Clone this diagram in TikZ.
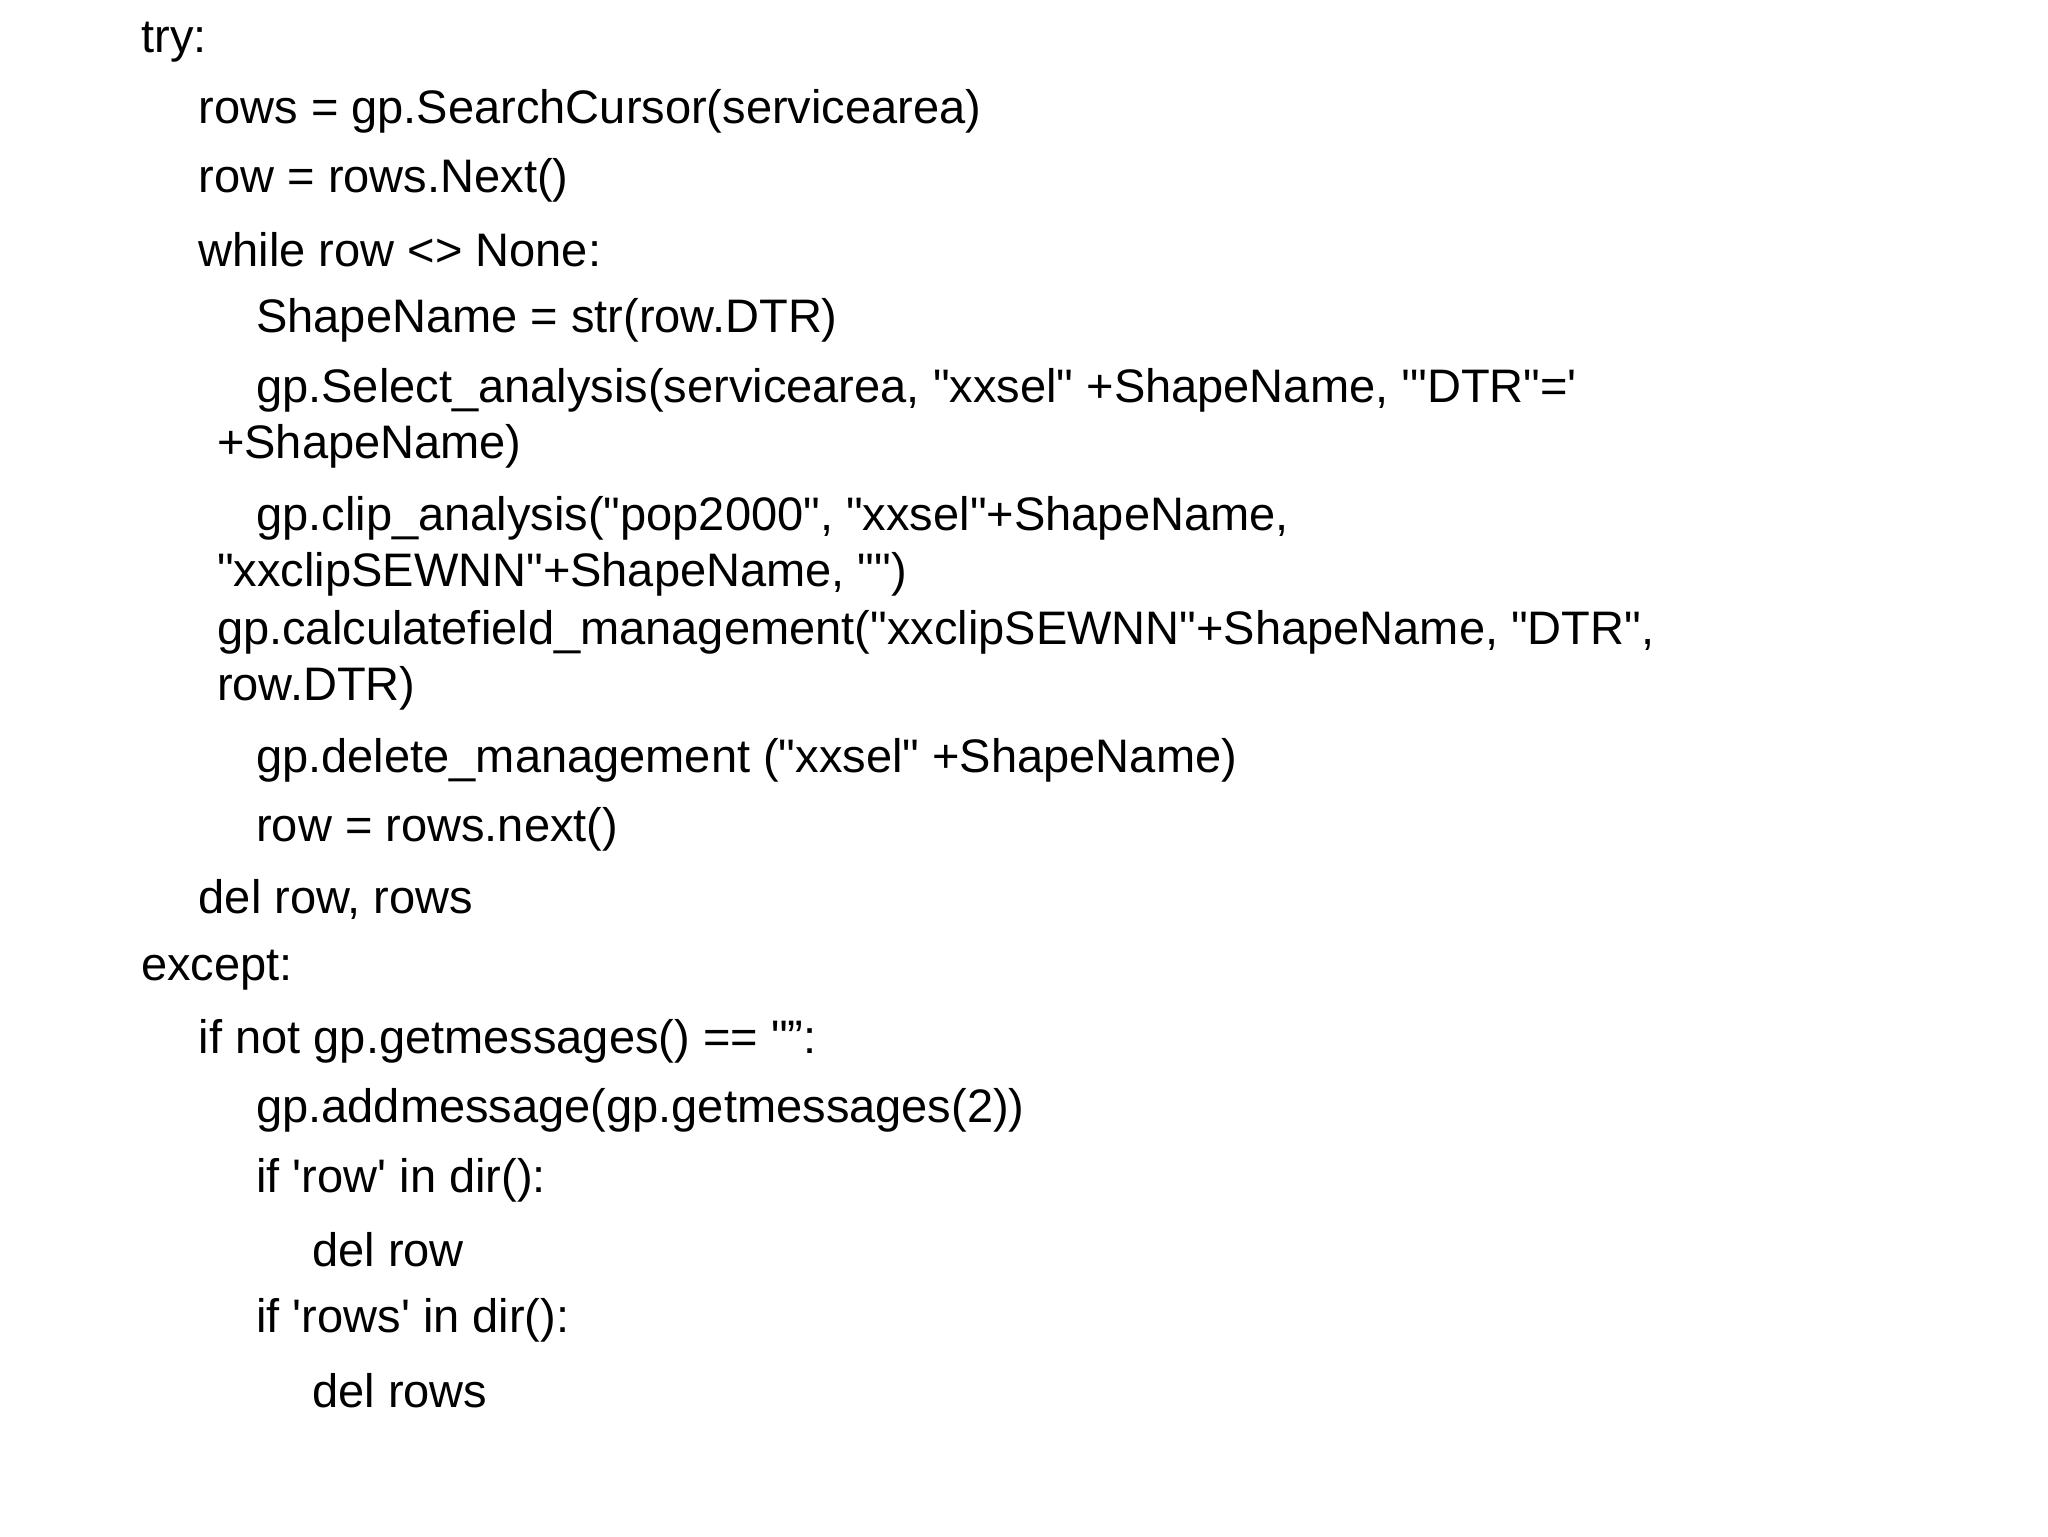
\documentclass[tikz,border=0pt]{standalone}
\usepackage{fontspec}
\newfontfamily\cf{Liberation Sans}
\begin{document}
\begin{tikzpicture}[x=1pt,y=1pt,ln/.style={anchor=west,inner sep=0pt,font=\cf\fontsize{36}{40}\selectfont}]
\useasboundingbox[fill=white] (0,0) rectangle (1568,-1176);
\node[ln] (l1) at (108,-32) {try:};
\node[ln] (l2) at (152,-85) {rows = gp.SearchCursor(servicearea)};
\node[ln] (l3) at (152,-138) {row = rows.Next()};
\node[ln] (l4) at (152,-191) {while row <> None:};
\node[ln] (l5) at (196,-245) {ShapeName = str(row.DTR)};
\node[ln] (l6) at (196,-299) {gp.Select\_analysis(servicearea, "xxsel" +ShapeName, '"DTR"='};
\node[ln] (l7) at (166,-342) {+ShapeName)};
\node[ln] (l8) at (196,-397) {gp.clip\_analysis("pop2000", "xxsel"+ShapeName,};
\node[ln] (l9) at (166,-440) {"xxclipSEWNN"+ShapeName, "")};
\node[ln] (l10) at (166,-484) {gp.calculatefield\_management("xxclipSEWNN"+ShapeName, "DTR",};
\node[ln] (l11) at (166,-527) {row.DTR)};
\node[ln] (l12) at (196,-582) {gp.delete\_management ("xxsel" +ShapeName)};
\node[ln] (l13) at (196,-635) {row = rows.next()};
\node[ln] (l14) at (152,-689) {del row, rows};
\node[ln] (l15) at (108,-743) {except:};
\node[ln] (l16) at (152,-797) {if not gp.getmessages() == "”:};
\node[ln] (l17) at (196,-850) {gp.addmessage(gp.getmessages(2))};
\node[ln] (l18) at (196,-904) {if 'row' in dir():};
\node[ln] (l19) at (239,-957) {del row};
\node[ln] (l20) at (196,-1011) {if 'rows' in dir():};
\node[ln] (l21) at (239,-1065) {del rows};
\end{tikzpicture}
\end{document}
